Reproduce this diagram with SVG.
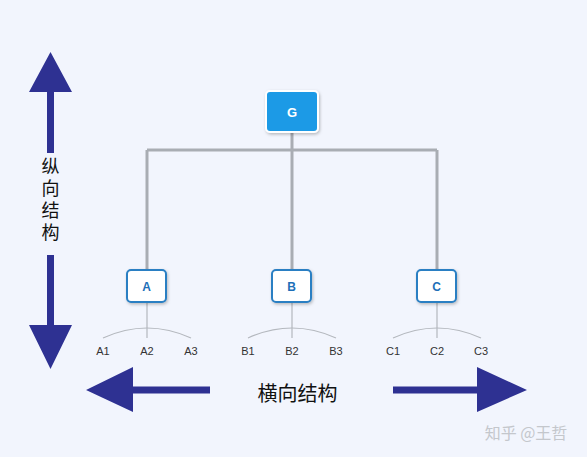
<svg xmlns="http://www.w3.org/2000/svg" width="587" height="457" viewBox="0 0 587 457">
<defs>
<style>
.bg{fill:#f2f5fd}
.arrow{fill:#2e3192}
.tree{stroke:#a9adb3;stroke-width:3;fill:none}
.thin{stroke:#b4b8be;stroke-width:1.2;fill:none}
.box{fill:#ffffff;stroke:#2b7fc3;stroke-width:2}
.lbl{font-family:"Liberation Sans",Arial,sans-serif;font-size:12px;font-weight:bold;fill:#1e6fb8;text-anchor:middle}
.leaf{font-family:"Liberation Sans",Arial,sans-serif;font-size:11px;fill:#333;text-anchor:middle}
.cjk{font-family:"Noto Sans CJK SC","DejaVu Sans",sans-serif;fill:#111}
</style>
<filter id="sh" x="-30%" y="-30%" width="160%" height="160%">
<feDropShadow dx="1" dy="1.5" stdDeviation="1.5" flood-color="#000" flood-opacity="0.25"/>
</filter>
</defs>
<rect class="bg" x="0" y="0" width="587" height="457"/>

<g id="connectors">
<path class="tree" d="M292 131V150M147 150H437M147 150V270M292 150V270M437 150V270"/>
<path class="thin" d="M147 302V338M292 302V338M437 302V338"/>
<path class="thin" d="M103 338Q147 318 191 338M248 338Q292 318 336 338M393 338Q437 318 481 338"/>
</g>

<g id="node-G">
<rect x="266" y="91" width="52" height="41" rx="4" fill="#1b9ae6" stroke="#ffffff" stroke-width="2" filter="url(#sh)"/>
<text x="292" y="117" font-family="Liberation Sans,Arial,sans-serif" font-size="13" font-weight="bold" fill="#fff" text-anchor="middle">G</text>
</g>
<g id="node-A">
<rect class="box" x="127" y="270" width="39" height="32" rx="4" filter="url(#sh)"/>
<text class="lbl" x="146.5" y="291">A</text>
</g>
<g id="node-B">
<rect class="box" x="272" y="270" width="39" height="32" rx="4" filter="url(#sh)"/>
<text class="lbl" x="291.5" y="291">B</text>
</g>
<g id="node-C">
<rect class="box" x="417" y="270" width="39" height="32" rx="4" filter="url(#sh)"/>
<text class="lbl" x="436.5" y="291">C</text>
</g>

<g id="leaves">
<text class="leaf" x="103" y="355">A1</text>
<text class="leaf" x="147" y="355">A2</text>
<text class="leaf" x="191" y="355">A3</text>
<text class="leaf" x="248" y="355">B1</text>
<text class="leaf" x="292" y="355">B2</text>
<text class="leaf" x="336" y="355">B3</text>
<text class="leaf" x="393" y="355">C1</text>
<text class="leaf" x="437" y="355">C2</text>
<text class="leaf" x="481" y="355">C3</text>
</g>

<g id="vertical-arrow">
<polygon class="arrow" points="50.5,52 72,92 54,92 54,153 47,153 47,92 29,92"/>
<polygon class="arrow" points="47,255 54,255 54,325 72,325 50.5,369 29,325 47,325"/>
<text class="cjk" x="50.5" y="157" font-size="18" writing-mode="tb" letter-spacing="4">纵向结构</text>
</g>

<g id="horizontal-arrow">
<polygon class="arrow" points="86,390 133,367 133,386.5 210,386.5 210,393.5 133,393.5 133,412"/>
<polygon class="arrow" points="527,390 477,367 477,386.5 393,386.5 393,393.5 477,393.5 477,412"/>
<text class="cjk" x="297.5" y="401" font-size="20" text-anchor="middle">横向结构</text>
</g>

<text x="526" y="439" font-family="Noto Sans CJK SC,DejaVu Sans,sans-serif" font-size="16" fill="#c4c7cc" text-anchor="middle">知乎 @王哲</text>
</svg>
